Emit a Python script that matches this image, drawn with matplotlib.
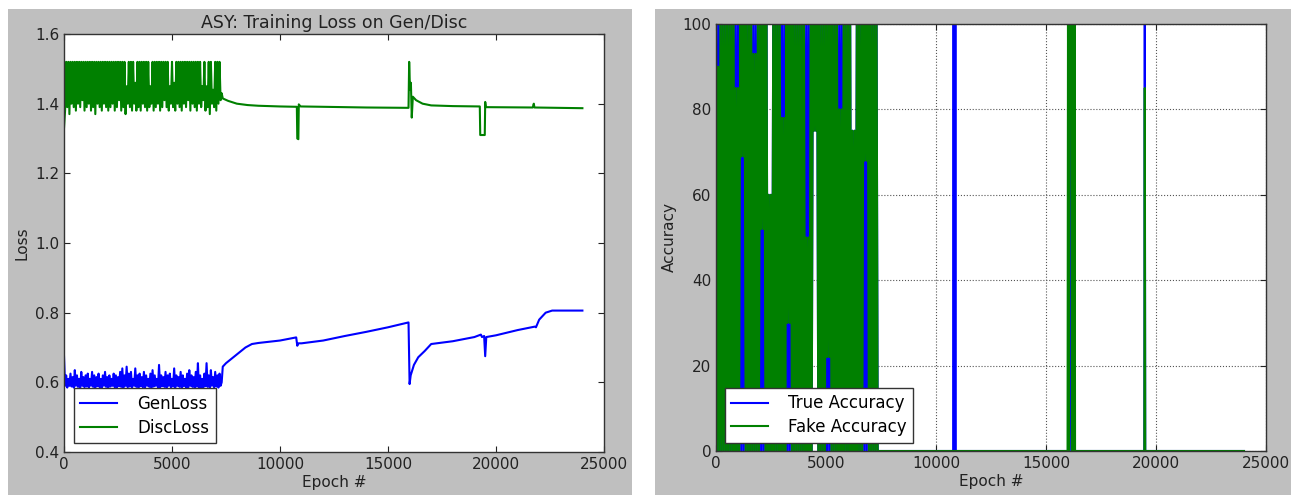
import numpy as np
import matplotlib
matplotlib.use('Agg')
import matplotlib.pyplot as plt
from matplotlib.patches import Rectangle

# the noisy stretches are tight zigzags; simplification would merge them away
plt.rcParams['path.simplify'] = False

# ---- data ----

# noisy part of the loss curves: one peak and one trough per 100 epochs
loss_noise_epochs = np.arange(0, 7300, 50)
disc_peaks = [1.33, 1.52, 1.52, 1.52, 1.52, 1.52, 1.52, 1.52, 1.52, 1.52,
              1.52, 1.52, 1.52, 1.52, 1.52, 1.52, 1.52, 1.52, 1.52, 1.52,
              1.52, 1.52, 1.52, 1.52, 1.52, 1.52, 1.52, 1.52, 1.52, 1.45,
              1.52, 1.52, 1.52, 1.46, 1.52, 1.52, 1.52, 1.52, 1.52, 1.52,
              1.45, 1.52, 1.52, 1.52, 1.52, 1.52, 1.52, 1.52, 1.52, 1.45,
              1.52, 1.46, 1.52, 1.52, 1.52, 1.52, 1.52, 1.52, 1.52, 1.52,
              1.52, 1.52, 1.52, 1.52, 1.45, 1.52, 1.45, 1.52, 1.52, 1.44,
              1.52, 1.52, 1.52]
disc_troughs = [1.38, 1.39, 1.37, 1.40, 1.39, 1.38, 1.40, 1.39, 1.41, 1.38,
                1.39, 1.40, 1.38, 1.39, 1.37, 1.40, 1.39, 1.38, 1.40, 1.39,
                1.38, 1.39, 1.40, 1.38, 1.39, 1.41, 1.38, 1.39, 1.37, 1.40,
                1.39, 1.38, 1.40, 1.38, 1.39, 1.38, 1.40, 1.39, 1.38, 1.39,
                1.40, 1.38, 1.39, 1.40, 1.38, 1.39, 1.41, 1.39, 1.38, 1.40,
                1.39, 1.38, 1.40, 1.39, 1.38, 1.40, 1.39, 1.41, 1.38, 1.40,
                1.39, 1.38, 1.40, 1.39, 1.41, 1.38, 1.39, 1.37, 1.40, 1.39,
                1.38, 1.40, 1.41]
gen_peaks = [0.675, 0.62, 0.61, 0.625, 0.615, 0.635, 0.62, 0.61, 0.63, 0.615,
             0.62, 0.625, 0.61, 0.63, 0.62, 0.615, 0.625, 0.61, 0.62, 0.63,
             0.615, 0.62, 0.61, 0.625, 0.62, 0.615, 0.63, 0.64, 0.62, 0.645,
             0.625, 0.63, 0.61, 0.64, 0.62, 0.625, 0.615, 0.63, 0.62, 0.61,
             0.625, 0.635, 0.62, 0.61, 0.65, 0.62, 0.615, 0.63, 0.62, 0.625,
             0.61, 0.64, 0.62, 0.615, 0.63, 0.62, 0.61, 0.625, 0.635, 0.62,
             0.615, 0.63, 0.655, 0.62, 0.61, 0.625, 0.655, 0.62, 0.635, 0.615,
             0.63, 0.62, 0.625]
gen_troughs = [0.59, 0.585, 0.59, 0.588, 0.585, 0.59, 0.587, 0.585, 0.59, 0.586,
               0.588, 0.585, 0.59, 0.587, 0.585, 0.589, 0.586, 0.585, 0.59, 0.587,
               0.585, 0.588, 0.59, 0.586, 0.585, 0.589, 0.587, 0.585, 0.59, 0.586,
               0.588, 0.585, 0.59, 0.587, 0.585, 0.589, 0.586, 0.585, 0.59, 0.587,
               0.585, 0.588, 0.59, 0.586, 0.585, 0.589, 0.587, 0.585, 0.59, 0.586,
               0.588, 0.585, 0.59, 0.587, 0.585, 0.589, 0.586, 0.585, 0.59, 0.587,
               0.585, 0.588, 0.575, 0.586, 0.585, 0.589, 0.587, 0.585, 0.59, 0.586,
               0.588, 0.585, 0.59]

# smooth part of the loss curves
gen_epochs = [7300, 7350, 7500, 7800, 8100, 8400, 8700, 9000, 10000, 10750,
              10800, 10850, 11000, 12000, 13000, 14000, 15000, 15950, 16000, 16050,
              16200, 16400, 16700, 17000, 18000, 19000, 19300, 19350, 19450, 19500,
              19550, 20000, 21000, 21800, 21850, 22000, 22300, 22600, 24000]
gen_values = [0.60, 0.645, 0.655, 0.67, 0.685, 0.70, 0.71, 0.713, 0.72, 0.729,
              0.705, 0.712, 0.712, 0.72, 0.733, 0.745, 0.758, 0.772, 0.595, 0.62,
              0.65, 0.672, 0.69, 0.71, 0.718, 0.73, 0.737, 0.73, 0.733, 0.675,
              0.73, 0.735, 0.75, 0.76, 0.758, 0.78, 0.80, 0.806, 0.806]
disc_epochs = [7300, 7350, 7600, 8000, 8500, 9000, 10000, 10780, 10800, 10850,
               10870, 10950, 12000, 14000, 15950, 15980, 16020, 16060, 16100, 16150,
               16300, 16600, 17000, 18000, 19250, 19270, 19480, 19500, 19530, 21700,
               21750, 21780, 24000]
disc_values = [1.43, 1.415, 1.408, 1.40, 1.396, 1.394, 1.392, 1.391, 1.30, 1.298,
               1.398, 1.392, 1.391, 1.389, 1.388, 1.52, 1.44, 1.46, 1.36, 1.42,
               1.41, 1.40, 1.395, 1.393, 1.392, 1.31, 1.31, 1.405, 1.39, 1.389,
               1.40, 1.389, 1.387]

# noisy part of the accuracy curves: one peak and one trough per 100 epochs
acc_noise_epochs = np.arange(0, 7400, 50)
fake_peaks = [100, 90, 100, 100, 100, 100, 100, 100, 100, 85,
              85, 100, 100, 100, 100, 100, 100, 93, 93, 100,
              100, 100, 100, 100, 60, 60, 100, 100, 100, 100,
              78, 78, 100, 100, 100, 100, 100, 100, 100, 100,
              100, 50, 50, 100, 100, 100, 100, 100, 100, 100,
              100, 100, 100, 100, 100, 100, 80, 80, 100, 100,
              100, 100, 75, 75, 100, 100, 100, 100, 100, 100,
              100, 100, 100, 100]
fake_troughs = [0, 0, 0, 0, 0, 0, 0, 0, 0, 0,
                0, 69, 69, 0, 0, 0, 0, 0, 0, 0,
                52, 52, 0, 0, 0, 0, 0, 0, 0, 0,
                0, 0, 30, 30, 0, 0, 0, 0, 0, 0,
                0, 0, 0, 0, 75, 75, 0, 0, 0, 0,
                22, 22, 0, 0, 0, 0, 0, 0, 0, 0,
                0, 0, 0, 0, 0, 0, 0, 68, 68, 0,
                0, 0, 0, 0]
true_peaks = [100, 100, 100, 100, 100, 100, 100, 100, 100, 100,
              100, 100, 100, 100, 100, 100, 100, 100, 100, 100,
              100, 100, 100, 100, 60, 60, 100, 100, 100, 100,
              100, 100, 100, 100, 100, 100, 100, 100, 100, 100,
              100, 100, 100, 100, 100, 100, 100, 100, 100, 100,
              100, 100, 100, 100, 100, 100, 100, 100, 100, 100,
              100, 100, 75, 75, 100, 100, 100, 100, 100, 100,
              100, 100, 100, 100]
true_troughs = [0, 0, 0, 0, 0, 0, 0, 0, 0, 0,
                0, 0, 0, 0, 0, 0, 0, 0, 0, 0,
                0, 0, 0, 0, 0, 0, 0, 0, 0, 0,
                0, 0, 0, 0, 0, 0, 0, 0, 0, 0,
                0, 0, 0, 0, 75, 75, 0, 0, 0, 0,
                0, 0, 0, 0, 0, 0, 0, 0, 0, 0,
                0, 0, 0, 0, 0, 0, 0, 0, 0, 0,
                0, 0, 0, 0]

# later part of the accuracy curves
true_epochs = [7400, 10780, 10800, 10820, 10840, 10860, 10880, 10900, 16050, 16100,
               16150, 16200, 16250, 19470, 19490, 19510, 24000]
true_values = [0, 0, 100, 0, 100, 0, 100, 0, 0, 100,
               0, 100, 0, 0, 100, 0, 0]
fake_epochs = [7400, 15980, 16000, 16050, 16080, 16120, 16160, 16200, 16240, 16280,
               16300, 16320, 19470, 19490, 19510, 24000]
fake_values = [0, 0, 100, 0, 100, 88, 100, 0, 100, 0,
               100, 0, 0, 85, 0, 0]


def join_noise(peaks, troughs):
    # put peaks and troughs in epoch order: peak, trough, peak, trough ...
    return np.column_stack([peaks, troughs]).ravel()


def build_series(noise_epochs, peaks, troughs, epochs, values):
    x = np.concatenate([noise_epochs, epochs])
    y = np.concatenate([join_noise(peaks, troughs), values])
    return x, y


def add_panel_background(fig, x0, x1, top):
    # grey figure background behind each panel, white gap in between
    w, h = 1291.0, 495.0
    rect = Rectangle((x0 / w, 0), (x1 - x0) / w, (h - top) / h,
                     transform=fig.transFigure, facecolor='#bfbfbf',
                     edgecolor='none', zorder=-1)
    fig.add_artist(rect)


def style_axes(ax):
    ax.tick_params(direction='in', top=True, right=True, labelsize=11,
                   length=4, colors='#222222')
    for spine in ax.spines.values():
        spine.set_color('#333333')
        spine.set_linewidth(1.0)


def plot_loss(ax):
    gx, gy = build_series(loss_noise_epochs, gen_peaks, gen_troughs, gen_epochs, gen_values)
    dx, dy = build_series(loss_noise_epochs, disc_peaks, disc_troughs, disc_epochs, disc_values)
    ax.plot(gx, gy, color='#0000ff', lw=1.5, label='GenLoss')
    ax.plot(dx, dy, color='#008000', lw=1.5, label='DiscLoss')
    ax.set_xlim(0, 25000)
    ax.set_ylim(0.4, 1.6)
    ax.set_xticks([0, 5000, 10000, 15000, 20000, 25000])
    ax.set_yticks([0.4, 0.6, 0.8, 1.0, 1.2, 1.4, 1.6])
    ax.set_title('ASY: Training Loss on Gen/Disc', fontsize=12.5, pad=4, color='#222222')
    ax.set_xlabel('Epoch #', fontsize=11, labelpad=2, color='#222222')
    ax.set_ylabel('Loss', fontsize=11, labelpad=4, color='#222222')
    style_axes(ax)
    leg = ax.legend(loc='lower left', bbox_to_anchor=(0.018, 0.021), borderaxespad=0,
                    fontsize=12, fancybox=False, framealpha=1, handlelength=2.2,
                    handletextpad=1.2, borderpad=0.4, labelspacing=0.35)
    leg.get_frame().set_edgecolor('#333333')


def plot_accuracy(ax):
    tx, ty = build_series(acc_noise_epochs, true_peaks, true_troughs, true_epochs, true_values)
    fx, fy = build_series(acc_noise_epochs, fake_peaks, fake_troughs, fake_epochs, fake_values)
    ax.plot(tx, ty, color='#0000ff', lw=1.5, label='True Accuracy')
    ax.plot(fx, fy, color='#008000', lw=1.5, label='Fake Accuracy')
    ax.set_xlim(0, 25000)
    ax.set_ylim(0, 100)
    ax.set_xticks([0, 5000, 10000, 15000, 20000, 25000])
    ax.set_yticks([0, 20, 40, 60, 80, 100])
    ax.grid(True, linestyle=':', color='#555555', linewidth=0.8)
    ax.set_xlabel('Epoch #', fontsize=11, labelpad=2, color='#222222')
    ax.set_ylabel('Accuracy', fontsize=11, labelpad=4, color='#222222')
    style_axes(ax)
    leg = ax.legend(loc='lower left', bbox_to_anchor=(0.016, 0.019), borderaxespad=0,
                    fontsize=12, fancybox=False, framealpha=1, handlelength=2.2,
                    handletextpad=1.2, borderpad=0.4, labelspacing=0.35)
    leg.get_frame().set_edgecolor('#333333')


if __name__ == '__main__':
    fig = plt.figure(figsize=(12.91, 4.95), dpi=100, facecolor='white')
    add_panel_background(fig, 8, 632, 9)
    add_panel_background(fig, 655, 1291, 9)

    ax_loss = fig.add_axes([64 / 1291, 1 - 452 / 495, 540 / 1291, 418 / 495])
    ax_acc = fig.add_axes([716 / 1291, 1 - 451 / 495, 550 / 1291, 427 / 495])

    plot_loss(ax_loss)
    plot_accuracy(ax_acc)

    fig.savefig('out.png', dpi=100, facecolor='white')
    print('saved out.png')
